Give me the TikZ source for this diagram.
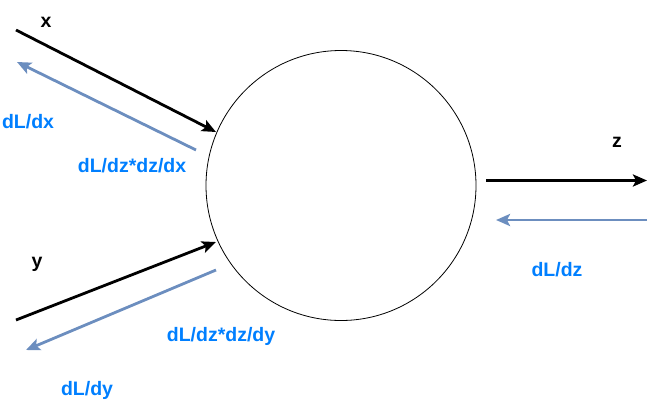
\documentclass[tikz,border=0pt]{standalone}
\usepackage{fontspec}
\setmainfont{Liberation Sans}
\usetikzlibrary{arrows.meta}
\definecolor{lblue}{HTML}{007FFF}
\definecolor{abl}{HTML}{6C8EBF}
\begin{document}
\begin{tikzpicture}[x=1pt,y=-1pt,
  fwd/.style={line width=2.8pt,black,-{Stealth[length=14pt,width=12pt,inset=3pt]}},
  bwd/.style={line width=2.8pt,abl,-{Stealth[length=14pt,width=12pt,inset=3pt]}},
  lab/.style={font=\bfseries\fontsize{19.5}{21}\selectfont,inner sep=0pt},
  blab/.style={lab,text=lblue}]
\useasboundingbox (0,0) rectangle (656,402);
\node[circle,draw,line width=0.8pt,minimum size=270pt,inner sep=0pt] (c) at (341,185.5) {};
\coordinate (x0) at (16,30);
\coordinate (x1) at (216,132);
\coordinate (dx0) at (196,150);
\coordinate (dx1) at (17,62);
\coordinate (y0) at (16,320);
\coordinate (y1) at (216,242);
\coordinate (dy0) at (216,270);
\coordinate (dy1) at (26,350);
\coordinate (z0) at (486,180.5);
\coordinate (z1) at (647,180.5);
\coordinate (dz0) at (647,220);
\coordinate (dz1) at (496,220);
\draw[fwd] (x0) -- (x1);
\draw[bwd] (dx0) -- (dx1);
\draw[fwd] (y0) -- (y1);
\draw[bwd] (dy0) -- (dy1);
\draw[fwd] (z0) -- (z1);
\draw[bwd] (dz0) -- (dz1);
\node[lab] (lx) at (46,22) {x};
\node[lab] (ly) at (37,264) {y};
\node[lab] (lz) at (617,142) {z};
\node[blab] (ldx) at (28,122) {dL/dx};
\node[blab] (ldzx) at (132,166) {dL/dz*dz/dx};
\node[blab] (ldzy) at (221,336) {dL/dz*dz/dy};
\node[blab] (ldy) at (87,390) {dL/dy};
\node[blab] (ldz) at (557,270) {dL/dz};
\end{tikzpicture}
\end{document}
